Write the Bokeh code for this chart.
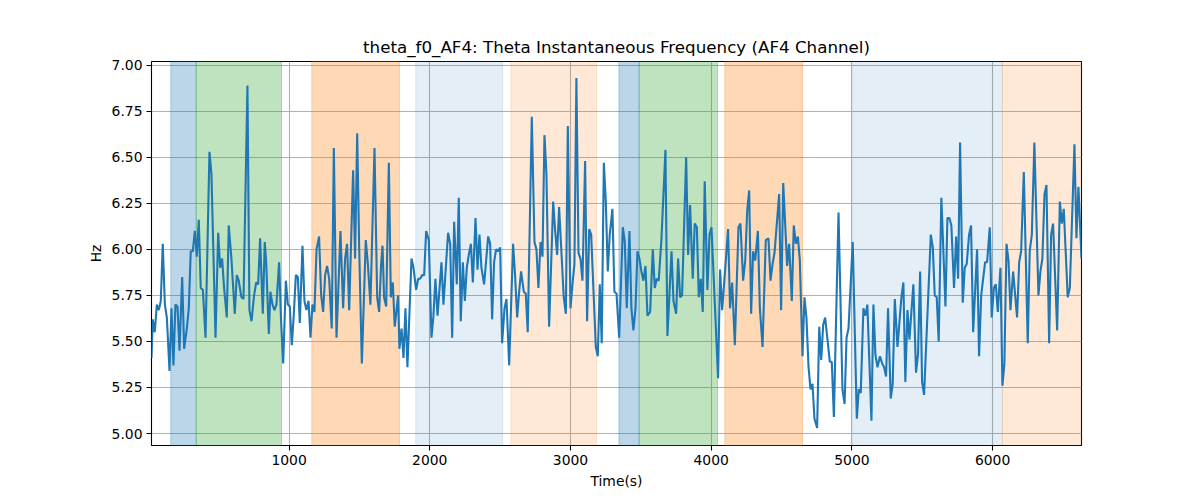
from bokeh.plotting import figure
from bokeh.models import Range1d, FixedTicker, NumeralTickFormatter, BoxAnnotation
from bokeh.embed import file_html
from bokeh.resources import INLINE

# time stamps (s) and theta instantaneous frequency (Hz)
times = [
    22, 31, 45, 60, 74, 88, 102, 117, 131, 150, 164, 178, 192, 207, 221, 240, 254, 273, 287, 301,
    316, 330, 344, 358, 372, 387, 406, 434, 448, 477, 496, 510, 524, 538, 557, 571, 590, 614, 628, 642,
    661, 676, 704, 718, 733, 751, 766, 780, 794, 813, 827, 837, 856,
    867, 882, 896, 910, 929, 943, 958, 977, 991, 1005, 1019, 1033, 1048, 1062, 1076, 1095, 1109, 1123, 1138,
    1152, 1166, 1180, 1195, 1213, 1228, 1242, 1256, 1270, 1285, 1303, 1318, 1337, 1365, 1384, 1398, 1412,
    1427, 1455, 1469, 1484, 1498, 1517, 1545, 1559, 1578, 1607, 1626, 1640, 1654, 1664,
    1675, 1690, 1709, 1723, 1737, 1751, 1775, 1784, 1799, 1813, 1827, 1841, 1870, 1884, 1903, 1917, 1931,
    1946, 1960, 1974, 1993, 2012, 2026, 2040, 2055, 2083, 2097, 2130, 2145, 2159, 2173, 2192, 2206, 2220,
    2235, 2249, 2263, 2277, 2292, 2306, 2325, 2339, 2353, 2367, 2386, 2415, 2429, 2443, 2457, 2471, 2486,
    2500, 2514,
    2531, 2545, 2564, 2592, 2606, 2621, 2635, 2649, 2668, 2682, 2696, 2725, 2744, 2758, 2772, 2787, 2801,
    2815, 2829, 2848, 2877, 2891, 2905, 2919, 2952, 2967, 2981, 3000, 3014, 3028, 3042, 3057, 3071, 3085,
    3104, 3118, 3133, 3147, 3180, 3194, 3208, 3222, 3237, 3251, 3265, 3279, 3298, 3312, 3327, 3346,
    3372, 3386, 3400, 3419, 3433, 3447, 3462, 3476, 3490, 3504, 3518, 3533, 3547, 3566, 3585, 3599, 3613,
    3627, 3646, 3675, 3689, 3718, 3732, 3751, 3765, 3779, 3793, 3822, 3836, 3850, 3869, 3883, 3898, 3912,
    3926, 3940, 3954, 3973, 3988, 4002, 4049, 4063, 4078, 4120, 4134, 4149, 4168,
    4194, 4208, 4227, 4242, 4256, 4270, 4284, 4298, 4313, 4332, 4346, 4365, 4388, 4407, 4422, 4436, 4450,
    4483, 4497, 4512, 4540, 4554, 4573, 4587, 4602, 4616, 4630, 4649, 4663, 4677, 4692, 4706, 4720, 4734,
    4753, 4768, 4782, 4796, 4810, 4843, 4857, 4872, 4905, 4933, 4948, 4962, 4976,
    5006, 5035, 5049, 5063, 5082, 5096, 5110, 5139, 5153, 5167, 5182, 5200, 5215, 5229, 5243, 5257, 5276,
    5290, 5305, 5324, 5352, 5366, 5380, 5395, 5409, 5437, 5456, 5470, 5485, 5499, 5513, 5561, 5575, 5589,
    5603, 5617, 5636, 5665, 5679, 5693, 5707, 5726, 5741, 5755, 5769, 5788, 5802, 5816,
    5833, 5847, 5862, 5890, 5904, 5919, 5947, 5961, 5980, 5994, 6009, 6023, 6037, 6056, 6070, 6084, 6099,
    6113, 6127, 6146, 6174, 6189, 6203, 6222, 6250, 6264, 6279, 6297, 6326, 6340, 6354, 6369, 6383, 6402,
    6416, 6430, 6459, 6478, 6492, 6506, 6534, 6549, 6582, 6596, 6610, 6632,
]
freq_hz = [
    5.41, 5.62, 5.55, 5.70, 5.67, 5.72, 6.03, 5.70, 5.63, 5.34, 5.68, 5.37, 5.70, 5.69, 5.45, 5.85, 5.46, 5.57, 5.68, 5.99,
    5.99, 6.10, 5.96, 6.16, 5.79, 5.78, 5.52, 6.53, 6.41, 5.52, 6.09, 5.90, 5.95, 5.79, 5.63, 6.13, 5.95, 5.65, 5.86, 5.83,
    5.74, 5.73, 6.89, 5.67, 5.61, 5.75, 5.82, 5.81, 6.06, 5.65, 6.04, 5.93, 5.54,
    5.77, 5.70, 5.67, 5.70, 5.93, 5.61, 5.38, 5.83, 5.70, 5.69, 5.48, 5.64, 5.86, 5.85, 5.60, 6.02, 5.72, 5.67, 5.72,
    5.52, 5.70, 5.66, 6.00, 6.07, 5.75, 5.66, 5.86, 5.91, 5.84, 5.57, 6.55, 5.52, 6.10, 5.68, 5.95, 6.03,
    5.67, 6.43, 5.95, 6.63, 6.01, 5.38, 6.05, 5.93, 5.70, 6.55, 5.74, 5.66, 5.92, 6.02,
    5.74, 5.69, 6.47, 5.74, 5.82, 5.58, 5.75, 5.46, 5.57, 5.41, 5.68, 5.36, 5.95, 5.90, 5.78, 5.84, 5.84,
    5.86, 5.86, 6.10, 6.05, 5.52, 5.64, 5.84, 5.64, 5.93, 5.70, 6.09, 6.03, 5.52, 6.15, 5.81, 6.28, 5.61,
    5.93, 5.72, 5.90, 5.97, 6.03, 5.82, 6.17, 5.89, 6.08, 5.90, 5.81, 6.07, 6.03, 5.62, 5.93, 6.00, 5.99,
    6.01, 5.49,
    5.68, 5.73, 5.37, 6.03, 5.86, 5.63, 5.77, 5.88, 5.77, 5.76, 5.55, 6.72, 6.04, 6.00, 5.79, 6.04, 5.96,
    6.62, 6.41, 5.58, 6.26, 6.10, 5.97, 6.23, 5.74, 5.65, 6.67, 5.68, 5.81, 5.92, 6.93, 5.98, 5.95, 5.83,
    6.48, 5.61, 6.11, 6.08, 5.47, 5.42, 5.81, 5.49, 6.47, 6.26, 5.88, 6.08, 6.22, 5.77, 5.76, 5.52,
    6.12, 6.04, 5.68, 6.10, 5.68, 5.56, 5.68, 5.99, 5.95, 5.88, 5.83, 5.91, 5.64, 5.66, 6.00, 5.79, 5.84,
    5.83, 6.05, 6.54, 5.53, 5.99, 5.72, 5.65, 5.95, 5.74, 5.75, 6.50, 5.97, 6.24, 5.84, 6.14, 6.12, 5.74,
    5.84, 5.66, 6.37, 5.78, 6.08, 6.12, 5.30, 5.89, 5.67, 6.11, 5.68, 5.82, 5.48,
    6.12, 6.14, 5.83, 5.94, 6.21, 6.32, 5.65, 5.99, 5.94, 6.10, 5.68, 5.47, 6.05, 6.06, 5.83, 5.92, 5.98,
    6.30, 5.67, 6.36, 5.91, 6.03, 5.72, 6.13, 6.03, 6.07, 5.94, 5.42, 5.74, 5.63, 5.36, 5.24, 5.27, 5.08,
    5.03, 5.58, 5.40, 5.59, 5.63, 5.39, 5.39, 5.09, 6.20, 5.24, 5.16, 5.52, 5.57,
    6.04, 5.08, 5.24, 5.22, 5.68, 5.64, 5.70, 5.07, 5.70, 5.43, 5.36, 5.42, 5.38, 5.36, 5.31, 5.68, 5.19,
    5.27, 5.73, 5.47, 5.74, 5.82, 5.28, 5.67, 5.51, 5.81, 5.33, 5.43, 5.88, 5.28, 5.21, 6.08, 6.01, 5.75,
    5.74, 5.50, 6.28, 5.69, 6.17, 6.17, 6.13, 5.79, 6.07, 5.84, 6.58, 5.71, 5.90, 5.92,
    6.08, 6.13, 5.55, 6.00, 5.42, 5.75, 5.93, 5.93, 6.12, 5.63, 5.79, 5.81, 5.66, 5.90, 5.26, 5.38, 6.03,
    5.94, 5.67, 5.88, 5.63, 5.93, 5.99, 6.42, 5.49, 5.99, 6.08, 6.58, 5.75, 5.88, 5.95, 6.30, 6.35, 5.49,
    6.08, 6.14, 5.56, 6.26, 6.14, 6.22, 5.74, 5.79, 6.57, 6.06, 6.34, 5.95,
]

# shaded segments (start, end, colour, alpha)
span_start = [159, 340, 1161, 1900, 2576, 3344, 3488, 4097, 5004, 6070]
span_end = [340, 946, 1785, 2517, 3185, 3488, 4045, 4649, 6070, 6632]
span_color = ["#1f77b4", "#2ca02c", "#ff7f0e", "#1f77b4", "#ff7f0e",
              "#1f77b4", "#2ca02c", "#ff7f0e", "#1f77b4", "#ff7f0e"]
span_alpha = [0.3, 0.3, 0.3, 0.12, 0.17, 0.3, 0.3, 0.3, 0.12, 0.17]

x_ticks = [1000, 2000, 3000, 4000, 5000, 6000]
y_ticks = [5.0, 5.25, 5.5, 5.75, 6.0, 6.25, 6.5, 6.75, 7.0]

FONT = "DejaVu Sans"

p = figure(width=1192, height=492, title="theta_f0_AF4: Theta Instantaneous Frequency (AF4 Channel)",
           output_backend="svg", toolbar_location=None,
           x_range=Range1d(22, 6632), y_range=Range1d(4.935, 7.02),
           min_border_left=151, min_border_right=111, min_border_top=61, min_border_bottom=47)

p.title.align = "center"
p.title.text_font = FONT
p.title.text_font_size = "16.7px"
p.title.text_font_style = "normal"
p.title.text_color = "black"

p.outline_line_color = "black"
p.outline_line_width = 1.1
p.outline_line_alpha = 1.0

for s, e, c, a in zip(span_start, span_end, span_color, span_alpha):
    p.add_layout(BoxAnnotation(left=s, right=e, fill_color=c, fill_alpha=a,
                               line_color=c, line_alpha=a, line_width=1, level="underlay"))

p.line(times, freq_hz, line_color="#1f77b4", line_width=2.1)

p.xaxis.ticker = FixedTicker(ticks=x_ticks)
p.yaxis.ticker = FixedTicker(ticks=y_ticks)
p.yaxis.formatter = NumeralTickFormatter(format="0.00")
p.xaxis.axis_label = "Time(s)"
p.yaxis.axis_label = "Hz"

for ax in (p.xaxis, p.yaxis):
    ax.axis_line_color = None
    ax.major_tick_line_color = "black"
    ax.major_tick_line_width = 1.1
    ax.major_tick_in = 0
    ax.major_tick_out = 5
    ax.minor_tick_line_color = None
    ax.major_label_text_font = FONT
    ax.major_label_text_font_size = "13.9px"
    ax.major_label_text_color = "black"
    ax.major_label_standoff = 4
    ax.axis_label_text_font = FONT
    ax.axis_label_text_font_size = "13.9px"
    ax.axis_label_text_font_style = "normal"
    ax.axis_label_text_color = "black"
    ax.axis_label_standoff = 5

p.grid.grid_line_color = "#b0b0b0"
p.grid.grid_line_width = 1.1
p.grid.grid_line_alpha = 1.0

open("out.html", "w").write(file_html(p, INLINE))
